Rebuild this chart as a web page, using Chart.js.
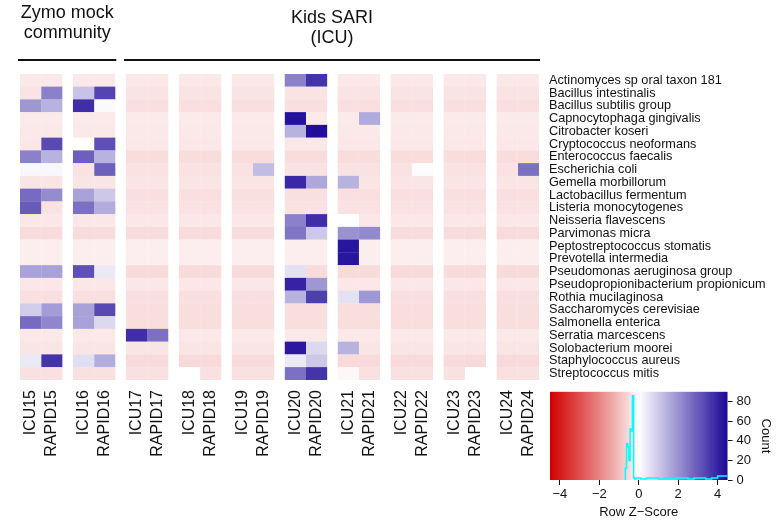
<!DOCTYPE html>
<html>
<head>
<meta charset="utf-8">
<script src="https://cdn.jsdelivr.net/npm/chart.js@4.4.1/dist/chart.umd.min.js"></script>
<style>
  body { margin: 0; background: #fff; }
  #wrap { position: relative; width: 784px; height: 523px; }
  #heat { position: absolute; left: 0; top: 0; }
  #key { position: absolute; left: 540px; top: 380px; }
</style>
</head>
<body>
<div id="wrap">
  <canvas id="heat" width="784" height="523"></canvas>
  <canvas id="key" width="244" height="143"></canvas>
</div>
<script>
const species = [
  'Actinomyces sp oral taxon 181', 'Bacillus intestinalis', 'Bacillus subtilis group',
  'Capnocytophaga gingivalis', 'Citrobacter koseri', 'Cryptococcus neoformans',
  'Enterococcus faecalis', 'Escherichia coli', 'Gemella morbillorum',
  'Lactobacillus fermentum', 'Listeria monocytogenes', 'Neisseria flavescens',
  'Parvimonas micra', 'Peptostreptococcus stomatis', 'Prevotella intermedia',
  'Pseudomonas aeruginosa group', 'Pseudopropionibacterium propionicum', 'Rothia mucilaginosa',
  'Saccharomyces cerevisiae', 'Salmonella enterica', 'Serratia marcescens',
  'Solobacterium moorei', 'Staphylococcus aureus', 'Streptococcus mitis'
]
const samples = [
  'ICU15', 'RAPID15', 'ICU16', 'RAPID16', 'ICU17', 'RAPID17', 'ICU18', 'RAPID18',
  'ICU19', 'RAPID19', 'ICU20', 'RAPID20', 'ICU21', 'RAPID21', 'ICU22', 'RAPID22',
  'ICU23', 'RAPID23', 'ICU24', 'RAPID24'
]
// row z-scores, one row per species, one value per sample
const zScores = [
  [-.3,-.3,-.3,-.3,-.3,-.3,-.3,-.3,-.3,-.3,2.3,3.7,-.3,-.3,-.3,-.3,-.3,-.3,-.3,-.3],
  [-.38,2.3,1.1,3.4,-.38,-.38,-.38,-.38,-.38,-.38,-.38,-.38,-.38,-.38,-.38,-.38,-.38,-.38,-.38,-.38],
  [1.9,1.4,3.8,0.1,-.45,-.45,-.45,-.45,-.45,-.45,-.45,-.45,-.45,-.45,-.45,-.45,-.45,-.45,-.45,-.45],
  [-.28,-.28,-.28,-.28,-.28,-.28,-.28,-.28,-.28,-.28,4.3,-.28,-.28,1.55,-.28,-.28,-.28,-.28,-.28,-.28],
  [-.3,-.3,-.3,-.3,-.3,-.3,-.3,-.3,-.3,-.3,1.4,4.4,-.3,-.3,-.3,-.3,-.3,-.3,-.3,-.3],
  [-.33,3.3,0.0,3.2,-.33,-.33,-.33,-.33,-.33,-.33,-.33,-.33,-.33,-.33,-.33,-.33,-.33,-.33,-.33,-.33],
  [2.3,1.4,2.9,1.4,-.48,-.48,-.48,-.48,-.48,-.48,-.48,-.48,-.48,-.48,-.48,-.48,-.48,-.48,-.48,-.48],
  [0.15,0.15,-.4,2.9,-.4,-.4,-.4,-.4,-.4,1.2,-.4,-.4,-.4,-.4,-.4,0.05,-.4,-.4,-.4,2.6],
  [-.35,-.35,-.35,-.35,-.35,-.35,-.35,-.35,-.35,-.35,3.9,1.6,1.4,-.35,-.35,-.35,-.35,-.35,-.35,-.35],
  [2.7,2.1,1.7,1.0,-.45,-.45,-.45,-.45,-.45,-.45,-.45,-.45,-.45,-.45,-.45,-.45,-.45,-.45,-.45,-.45],
  [3.0,-.4,2.6,1.5,-.4,-.4,-.4,-.4,-.4,-.4,-.4,-.4,-.4,-.4,-.4,-.4,-.4,-.4,-.4,-.4],
  [-.33,-.33,-.33,-.33,-.33,-.33,-.33,-.33,-.33,-.33,2.3,3.8,0.0,-.33,-.33,-.33,-.33,-.33,-.33,-.33],
  [-.5,-.5,-.5,-.5,-.5,-.5,-.5,-.5,-.5,-.5,2.5,1.0,2.0,2.15,-.5,-.5,-.5,-.5,-.5,-.5],
  [-.22,-.22,-.22,-.22,-.22,-.22,-.22,-.22,-.22,-.22,-.22,-.22,4.25,-.22,-.22,-.22,-.22,-.22,-.22,-.22],
  [-.22,-.22,-.22,-.22,-.22,-.22,-.22,-.22,-.22,-.22,-.22,-.22,4.25,-.22,-.22,-.22,-.22,-.22,-.22,-.22],
  [1.7,1.7,3.2,0.4,-.5,-.5,-.5,-.5,-.5,-.5,0.55,-.5,-.5,-.5,-.5,-.5,-.5,-.5,-.5,-.5],
  [-.32,-.32,-.32,-.32,-.32,-.32,-.32,-.32,-.32,-.32,4.0,1.9,-.32,-.32,-.32,-.32,-.32,-.32,-.32,-.32],
  [-.45,-.45,-.45,-.45,-.45,-.45,-.45,-.45,-.45,-.45,1.4,3.5,0.55,1.9,-.45,-.45,-.45,-.45,-.45,-.45],
  [0.9,1.8,1.7,3.3,-.47,-.47,-.47,-.47,-.47,-.47,-.47,-.47,-.47,-.47,-.47,-.47,-.47,-.47,-.47,-.47],
  [2.7,2.2,1.7,0.7,-.47,-.47,-.47,-.47,-.47,-.47,-.47,-.47,-.47,-.47,-.47,-.47,-.47,-.47,-.47,-.47],
  [-.3,-.3,-.3,-.3,3.8,2.6,-.3,-.3,-.3,-.3,-.3,-.3,-.3,-.3,-.3,-.3,-.3,-.3,-.3,-.3],
  [-.35,-.35,-.35,-.35,-.35,-.35,-.35,-.35,-.35,-.35,4.2,0.7,1.4,-.35,-.35,-.35,-.35,-.35,-.35,-.35],
  [0.4,3.7,0.6,1.5,-.52,-.52,-.52,-.52,-.52,-.52,0.4,1.0,-.52,-.52,-.52,-.52,-.52,-.52,-.52,-.52],
  [-.42,-.42,-.42,-.42,-.42,-.42,0.0,-.42,-.42,-.42,2.6,3.7,-0.1,-.42,-.42,-.42,-.42,0.0,-.42,-.42]
]
const groupTitles = [['Zymo mock', 'community'], ['Kids SARI', '(ICU)']]
const groupFirst = [0, 4]
const groupLast = [3, 19]

// colour key + histogram of z-scores
const keyTicks = [-4, -2, 0, 2, 4]
const countTicks = [0, 20, 40, 60, 80]
const histBreaks = [-0.68, -0.62, -0.56, -0.50, -0.44, -0.38, -0.32, -0.26, -0.20, -0.14, 0.1, 0.4, 0.7, 1.0, 1.3, 1.6, 1.9, 2.2, 2.5, 2.8, 3.1, 3.4, 3.7, 4.0, 4.3, 4.5]
const histCounts = [0, 12, 37, 34, 20, 52, 50, 86, 2, 1, 2, 1, 2, 2, 1, 2, 1, 2, 2, 1, 2, 2, 1, 2, 4, 4]

const FONT = '"Liberation Sans", Arial, sans-serif'
const lowColor = [208, 0, 0]
const midColor = [255, 255, 255]
const highColor = [28, 8, 152]
const zMax = 4.5

function zColor(z) {
  const t = Math.max(-1, Math.min(1, z / zMax))
  const end = t < 0 ? lowColor : highColor
  // the red half of the printed key fades in a little faster than the blue half
  const f = t < 0 ? Math.pow(-t, 0.9) : t
  const c = midColor.map((m, i) => Math.round(m + (end[i] - m) * f))
  return 'rgb(' + c.join(',') + ')'
}

// samples come in pairs, with half a column of space between pairs
const colStart = (c) => Math.floor(c / 2) * 2.5 + (c % 2)

const datasets = samples.map((name, c) => ({
  label: name,
  data: species.map(() => [colStart(c), colStart(c) + 1]),
  backgroundColor: zScores.map(row => zColor(row[c])),
  borderWidth: 0,
  grouped: false,
  barPercentage: 1.02,
  categoryPercentage: 1
}))

const groupHeader = {
  id: 'groupHeader',
  afterDraw(chart) {
    const ctx = chart.ctx
    const x = chart.scales.x
    const baselines = [18, 23]
    ctx.save()
    ctx.fillStyle = '#111'
    ctx.strokeStyle = '#111'
    ctx.font = '18px ' + FONT
    ctx.textAlign = 'center'
    groupTitles.forEach((lines, g) => {
      const left = x.getPixelForValue(colStart(groupFirst[g])) - 2
      const right = x.getPixelForValue(colStart(groupLast[g]) + 1) + 1
      const mid = (left + right) / 2
      lines.forEach((t, k) => ctx.fillText(t, mid, baselines[g] + k * 19.5))
      ctx.lineWidth = 2
      ctx.beginPath()
      ctx.moveTo(left, 60)
      ctx.lineTo(right, 60)
      ctx.stroke()
    })
    ctx.restore()
  }
}

new Chart(document.getElementById('heat'), {
  type: 'bar',
  data: { labels: species, datasets: datasets },
  options: {
    indexAxis: 'y',
    responsive: false,
    animation: false,
    events: [],
    layout: { padding: { left: 20, top: 74, right: 0, bottom: 0 } },
    plugins: { legend: { display: false }, tooltip: { enabled: false } },
    scales: {
      x: {
        type: 'linear',
        position: 'bottom',
        min: 0,
        max: 24.5,
        grid: { display: false },
        border: { display: false },
        afterBuildTicks: (scale) => {
          scale.ticks = samples.map((s, c) => ({ value: colStart(c) + 0.5 }))
        },
        afterFit: (scale) => { scale.height = 143 },
        ticks: {
          autoSkip: false,
          minRotation: 90,
          maxRotation: 90,
          padding: 2,
          color: '#111',
          font: { family: FONT, size: 16 },
          callback: (v, i) => samples[i]
        }
      },
      y: {
        type: 'category',
        position: 'right',
        grid: { display: false },
        border: { display: false },
        afterFit: (scale) => { scale.width = 245 },
        ticks: {
          autoSkip: false,
          padding: 2,
          color: '#111',
          font: { family: FONT, size: 12.7 }
        }
      }
    }
  },
  plugins: [groupHeader]
})

const keyGradient = {
  id: 'keyGradient',
  beforeDatasetsDraw(chart) {
    const { ctx, chartArea: a, scales: { x } } = chart
    const g = ctx.createLinearGradient(a.left, 0, a.right, 0)
    for (let z = -zMax; z <= zMax + 1e-9; z += 0.25) {
      g.addColorStop((x.getPixelForValue(z) - a.left) / (a.right - a.left), zColor(z))
    }
    ctx.save()
    ctx.fillStyle = g
    ctx.fillRect(a.left, a.top, a.right - a.left, a.bottom - a.top)
    ctx.restore()
  }
}

new Chart(document.getElementById('key'), {
  type: 'line',
  data: {
    datasets: [{
      data: histBreaks.map((b, i) => ({ x: b, y: histCounts[i] })),
      borderColor: '#00ffff',
      borderWidth: 1.5,
      pointRadius: 0,
      stepped: 'after',
      fill: false
    }]
  },
  options: {
    responsive: false,
    animation: false,
    events: [],
    layout: { padding: { left: 10, top: 8, right: 0, bottom: 0 } },
    plugins: { legend: { display: false }, tooltip: { enabled: false } },
    scales: {
      x: {
        type: 'linear',
        min: -zMax,
        max: zMax,
        border: { display: false },
        grid: { drawOnChartArea: false, drawTicks: true, tickLength: 5, color: '#111' },
        afterBuildTicks: (scale) => { scale.ticks = keyTicks.map(v => ({ value: v })) },
        afterFit: (scale) => { scale.height = 43 },
        ticks: {
          padding: 2,
          color: '#111',
          font: { family: FONT, size: 13 },
          callback: (v) => (v < 0 ? '\u2212' + Math.abs(v) : String(v))
        },
        title: {
          display: true,
          text: 'Row Z\u2212Score',
          color: '#111',
          font: { family: FONT, size: 13 },
          padding: { top: 0, bottom: 3 }
        }
      },
      y: {
        type: 'linear',
        position: 'right',
        min: 0,
        max: 90,
        border: { display: false },
        grid: { drawOnChartArea: false, drawTicks: true, tickLength: 5, color: '#111' },
        afterBuildTicks: (scale) => { scale.ticks = countTicks.map(v => ({ value: v })) },
        afterFit: (scale) => { scale.width = 56.5 },
        ticks: {
          padding: 4,
          color: '#111',
          font: { family: FONT, size: 13 }
        },
        title: {
          display: true,
          text: 'Count',
          color: '#111',
          font: { family: FONT, size: 13 },
          padding: { top: 11, bottom: 0 }
        }
      }
    }
  },
  plugins: [keyGradient]
})
</script>
</body>
</html>
